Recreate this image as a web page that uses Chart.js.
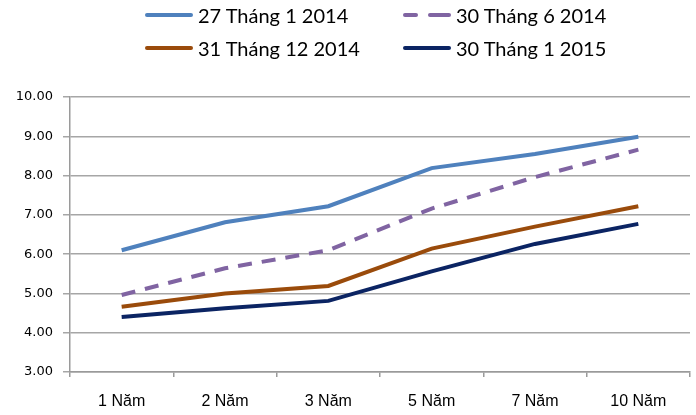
<!DOCTYPE html>
<html>
<head>
<meta charset="utf-8">
<script src="https://cdn.jsdelivr.net/npm/chart.js@4/dist/chart.umd.min.js"></script>
<style>
  html, body { margin: 0; padding: 0; background: #fff; }
  #wrap { position: relative; width: 696px; height: 415px; overflow: hidden; }
  canvas { position: absolute; left: 0; top: 0; }
  .item { position: absolute; height: 30px; display: flex; align-items: center; white-space: nowrap;
          font-family: Lato, 'Noto Sans', sans-serif; font-size: 20px; color: #000; z-index: 2; }
  .swatch { position: relative; width: 48px; height: 4px; margin-right: 5px; }
  .seg { position: absolute; top: 0; height: 4px; border-radius: 2px; }
</style>
</head>
<body>
<div id="wrap">
  <canvas id="c" width="696" height="415"></canvas>
</div>
<script>
// Lợi suất trái phiếu theo kỳ hạn (%)
const categories = ['1 Năm', '2 Năm', '3 Năm', '5 Năm', '7 Năm', '10 Năm'];
const seriesNames = ['27 Tháng 1 2014', '30 Tháng 6 2014', '31 Tháng 12 2014', '30 Tháng 1 2015'];
const jan2014 = [6.10, 6.81, 7.22, 8.19, 8.55, 8.99];
const jun2014 = [4.96, 5.64, 6.10, 7.16, 7.96, 8.66];
const dec2014 = [4.66, 5.00, 5.19, 6.14, 6.70, 7.22];
const jan2015 = [4.40, 4.62, 4.81, 5.56, 6.26, 6.77];
const yTicks = [3, 4, 5, 6, 7, 8, 9, 10];

const colors = ['#4F81BD', '#8064A2', '#9A4B0B', '#0B2463'];
const dashes = [[], [14, 10], [], []];
const values = [jan2014, jun2014, dec2014, jan2015];

const datasets = values.map((v, i) => ({
  label: seriesNames[i],
  data: v,
  borderColor: colors[i],
  backgroundColor: colors[i],
  borderWidth: 4,
  borderDash: dashes[i],
  borderCapStyle: 'butt',
  pointRadius: 0,
  tension: 0,
  fill: false
}));

// Legend: two columns, two rows
const wrap = document.getElementById('wrap');
const legendPos = [[145, 0], [403, 0], [145, 33], [403, 33]];
seriesNames.forEach((name, i) => {
  const item = document.createElement('div');
  item.className = 'item';
  item.style.left = legendPos[i][0] + 'px';
  item.style.top = legendPos[i][1] + 'px';
  const sw = document.createElement('span');
  sw.className = 'swatch';
  const segs = dashes[i].length ? [[0, 15], [25, 23]] : [[0, 48]];
  segs.forEach(([x, w]) => {
    const s = document.createElement('span');
    s.className = 'seg';
    s.style.left = x + 'px';
    s.style.width = w + 'px';
    s.style.background = colors[i];
    sw.appendChild(s);
  });
  const tx = document.createElement('span');
  tx.textContent = name;
  item.appendChild(sw);
  item.appendChild(tx);
  wrap.appendChild(item);
});

new Chart(document.getElementById('c'), {
  type: 'line',
  data: { labels: categories, datasets },
  options: {
    responsive: false,
    animation: false,
    layout: { padding: { top: 97, right: 6, left: 0, bottom: 0 } },
    plugins: { legend: { display: false }, tooltip: { enabled: false } },
    scales: {
      x: {
        offset: true,
        grid: { offset: true, drawOnChartArea: false, drawTicks: true, tickLength: 5, color: '#9a9a9a', lineWidth: 1.5 },
        border: { color: '#9a9a9a', width: 1.5 },
        ticks: { color: '#000', font: { family: "'Liberation Sans', Arial, sans-serif", size: 16 }, padding: 15, maxRotation: 0 },
        afterFit: s => { s.height = 43; }
      },
      y: {
        min: 3, max: 10,
        afterBuildTicks: s => { s.ticks = yTicks.map(v => ({ value: v })); },
        grid: { color: '#a6a6a6', lineWidth: 1.5, tickLength: 7 },
        border: { color: '#9a9a9a', width: 1.5 },
        ticks: { color: '#000', font: { family: "'DejaVu Sans', sans-serif", size: 13 }, padding: 10, callback: v => v.toFixed(2) },
        afterFit: s => { s.width = 70; }
      }
    }
  }
});
</script>
</body>
</html>
